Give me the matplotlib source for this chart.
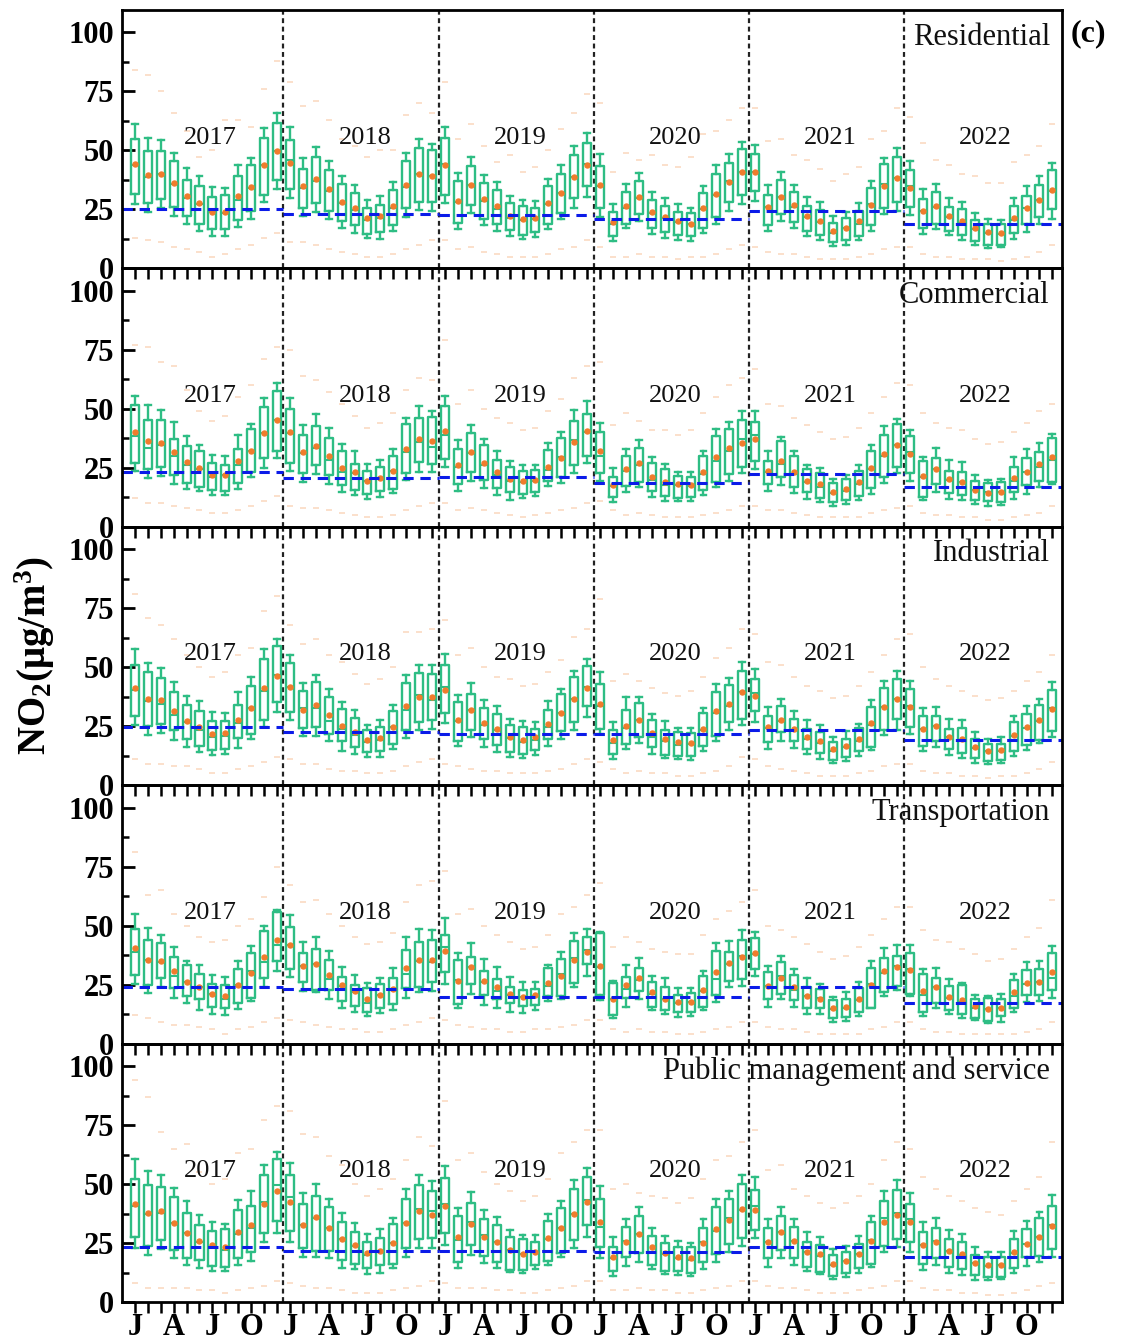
import matplotlib
matplotlib.use("Agg")
import matplotlib.pyplot as plt
from matplotlib.ticker import MultipleLocator, FixedLocator

plt.rcParams['font.family'] = ['Liberation Serif', 'DejaVu Serif']
plt.rcParams['mathtext.fontset'] = 'custom'
plt.rcParams['mathtext.rm'] = 'Liberation Serif:bold'
plt.rcParams['mathtext.bf'] = 'Liberation Serif:bold'
plt.rcParams['mathtext.it'] = 'Liberation Serif:bold:italic'

years = ['2017', '2018', '2019', '2020', '2021', '2022']
month_letters = ['J', '', '', 'A', '', '', 'J', '', '', 'O', '', '']
sectors = ['Residential', 'Commercial', 'Industrial', 'Transportation',
           'Public management and service']

# ---------------- Residential ----------------
res_whi = [61.1, 55.3, 54.6, 49.0, 42.4, 39.0, 34.4, 34.1, 43.7, 46.9, 59.3, 66.0,
           59.7, 46.6, 51.3, 45.4, 39.3, 35.4, 29.1, 30.7, 36.6, 49.0, 54.7, 52.9,
           59.7, 40.4, 47.3, 39.7, 36.6, 30.7, 29.0, 28.6, 37.9, 43.6, 51.9, 57.3,
           48.6, 27.3, 35.7, 40.3, 32.3, 29.7, 27.3, 25.7, 35.1, 43.7, 48.3, 53.7,
           52.3, 35.4, 40.9, 35.4, 30.4, 28.0, 22.3, 23.7, 27.6, 36.9, 46.9, 50.9,
           45.4, 33.6, 35.9, 29.7, 28.3, 23.6, 20.9, 20.4, 29.7, 35.1, 39.0, 44.7]
res_q3 = [55.0, 49.7, 49.7, 45.4, 37.3, 34.7, 30.4, 31.0, 39.0, 43.7, 55.4, 61.7,
          54.6, 42.3, 47.1, 41.6, 35.9, 31.9, 25.7, 26.9, 33.3, 45.4, 51.1, 50.0,
          55.3, 37.1, 43.3, 36.1, 33.3, 27.6, 26.4, 25.7, 34.7, 40.1, 48.0, 53.0,
          43.3, 23.7, 32.3, 36.9, 29.0, 26.6, 24.0, 23.3, 32.1, 40.1, 44.6, 50.4,
          48.3, 31.1, 37.6, 32.3, 26.6, 24.7, 19.3, 21.4, 24.4, 34.0, 44.4, 47.3,
          41.6, 29.4, 32.3, 26.1, 25.1, 20.4, 19.0, 18.7, 26.4, 30.7, 35.4, 41.6]
res_med = [43.7, 38.7, 40.1, 35.7, 29.7, 27.1, 24.0, 23.3, 29.0, 34.0, 44.0, 49.7,
           45.9, 34.0, 36.9, 32.6, 27.6, 24.7, 20.4, 21.4, 25.4, 34.4, 40.0, 39.3,
           44.3, 28.3, 35.4, 28.6, 25.1, 21.4, 20.4, 20.9, 27.1, 31.9, 38.6, 44.4,
           34.7, 19.0, 25.7, 30.0, 23.3, 21.4, 19.7, 18.7, 25.1, 31.1, 36.9, 40.9,
           40.7, 26.1, 30.4, 26.1, 21.9, 19.7, 15.1, 17.1, 19.0, 27.1, 35.7, 38.3,
           34.7, 24.3, 26.1, 21.9, 19.4, 16.6, 15.1, 14.7, 20.4, 25.4, 29.0, 32.6]
res_mean = [44.4, 39.7, 40.1, 36.0, 30.7, 27.6, 24.0, 24.0, 30.7, 34.3, 44.0, 49.7,
            44.7, 34.7, 38.0, 33.6, 28.3, 25.4, 21.4, 22.3, 26.4, 35.4, 40.0, 39.3,
            43.7, 28.6, 35.4, 29.4, 26.4, 22.3, 21.1, 21.4, 27.9, 32.1, 38.6, 43.7,
            35.4, 19.7, 26.6, 30.4, 23.7, 21.6, 20.0, 19.0, 25.7, 31.7, 36.6, 40.7,
            40.7, 26.1, 30.4, 26.9, 22.3, 20.1, 15.9, 17.3, 20.0, 26.9, 35.0, 38.3,
            34.0, 24.3, 26.6, 22.1, 20.1, 16.9, 15.4, 15.1, 21.4, 25.4, 29.0, 33.3]
res_q1 = [31.3, 27.9, 29.3, 25.9, 22.3, 18.7, 16.7, 16.7, 20.6, 24.3, 31.1, 37.3,
          33.6, 25.7, 27.6, 24.3, 20.0, 18.3, 14.7, 15.4, 18.3, 25.4, 28.3, 28.3,
          31.1, 19.4, 26.9, 21.1, 18.6, 16.1, 14.3, 15.4, 19.0, 23.6, 29.7, 34.7,
          25.4, 13.7, 19.0, 22.9, 17.1, 15.4, 14.3, 13.7, 17.1, 21.9, 28.3, 31.1,
          32.6, 18.3, 23.0, 19.7, 15.7, 14.3, 11.1, 11.9, 13.7, 18.3, 25.4, 28.0,
          26.1, 16.9, 19.0, 15.9, 14.0, 11.4, 10.1, 10.1, 15.1, 19.0, 21.9, 25.1]
res_wlo = [27.3, 24.0, 25.4, 22.0, 18.6, 15.7, 13.9, 13.9, 17.4, 21.1, 28.0, 33.6,
           29.7, 22.1, 24.0, 21.1, 16.9, 15.1, 12.9, 12.6, 15.9, 21.9, 24.7, 24.3,
           27.9, 16.6, 23.3, 18.3, 15.9, 13.7, 12.3, 13.3, 16.6, 20.9, 25.4, 30.4,
           21.9, 11.4, 16.9, 20.0, 14.7, 12.9, 11.9, 11.7, 15.1, 19.0, 24.3, 27.1,
           28.6, 15.7, 20.0, 16.9, 13.7, 11.9, 9.4, 10.1, 11.9, 15.9, 23.0, 24.4,
           22.6, 14.7, 16.6, 14.0, 11.9, 9.7, 8.6, 9.0, 12.3, 15.4, 18.7, 21.1]
res_hi = [84, 82, 75, 66, 58, 47, 50, 63, 63, 60, 76, 88,
          79, 69, 71, 63, 55, 52, 47, 50, 50, 65, 70, 66,
          79, 55, 61, 52, 45, 48, 41, 43, 50, 59, 66, 74,
          70, 41, 49, 46, 48, 44, 43, 47, 57, 58, 63, 68,
          68, 54, 55, 48, 46, 42, 37, 40, 43, 55, 58, 68,
          64, 53, 46, 44, 40, 39, 36, 36, 45, 48, 52, 61]
res_lo = [13, 12, 11, 9, 8, 7, 5, 6, 8, 10, 13, 15,
          11, 11, 10, 8, 7, 6, 5, 5, 6, 8, 10, 12,
          12, 8, 9, 7, 6, 5, 5, 5, 6, 8, 9, 12,
          9, 5, 5, 6, 5, 5, 4, 5, 5, 6, 8, 10,
          9, 7, 6, 6, 5, 4, 4, 4, 5, 6, 8, 9,
          9, 6, 5, 5, 4, 4, 4, 3, 4, 5, 7, 10]
res_annual = [25.1, 23.1, 22.6, 21.1, 24.4, 18.7]

# ---------------- Commercial ----------------
com_whi = [55.6, 51.5, 49.6, 44.4, 38.3, 34.8, 30.5, 30.2, 38.7, 43.4, 54.6, 61.0,
           54.6, 43.0, 47.9, 41.8, 35.2, 31.9, 26.4, 28.4, 33.0, 46.1, 51.1, 48.9,
           55.6, 36.6, 43.3, 37.0, 32.3, 27.8, 26.0, 26.2, 35.5, 40.1, 49.6, 53.2,
           44.1, 24.8, 33.0, 36.6, 29.5, 26.7, 23.4, 23.4, 32.1, 41.6, 44.4, 49.1,
           49.1, 32.1, 38.0, 31.9, 26.2, 25.0, 20.3, 22.1, 26.0, 34.5, 42.6, 45.8,
           41.1, 29.5, 33.5, 28.4, 27.4, 22.1, 19.9, 20.3, 29.5, 33.0, 35.6, 39.4]
com_q3 = [51.5, 45.4, 45.4, 37.3, 34.2, 32.3, 27.0, 26.0, 33.0, 41.6, 50.8, 57.6,
          50.1, 39.1, 42.6, 37.6, 32.1, 26.7, 23.8, 25.5, 30.2, 43.7, 46.1, 46.5,
          51.1, 33.0, 39.7, 34.8, 28.4, 25.2, 23.5, 24.1, 32.6, 37.6, 44.8, 47.9,
          40.1, 21.0, 30.2, 33.3, 27.0, 24.3, 21.7, 21.3, 29.8, 38.4, 41.3, 45.4,
          44.4, 27.8, 36.2, 29.9, 24.3, 22.8, 18.4, 20.3, 23.8, 32.3, 39.1, 43.7,
          38.3, 27.8, 29.1, 23.8, 23.4, 19.6, 18.6, 18.9, 25.2, 29.2, 31.6, 37.7]
com_med = [38.3, 33.5, 34.5, 30.2, 26.2, 24.5, 21.3, 22.1, 26.2, 32.3, 39.9, 45.1,
           39.7, 31.3, 33.3, 28.4, 23.1, 22.7, 19.3, 20.7, 23.8, 31.6, 35.9, 34.0,
           39.0, 25.2, 31.2, 26.0, 22.1, 19.6, 19.1, 19.6, 24.1, 29.5, 36.6, 40.1,
           30.2, 17.4, 23.5, 26.2, 19.9, 17.7, 17.7, 17.4, 22.4, 27.8, 32.3, 37.3,
           38.7, 23.1, 26.7, 22.4, 18.9, 17.0, 14.2, 15.3, 18.2, 24.3, 30.2, 34.5,
           31.6, 21.0, 24.3, 20.0, 18.9, 15.7, 14.6, 14.6, 19.6, 23.1, 25.2, 28.1]
com_mean = [40.0, 36.2, 35.6, 31.5, 27.5, 25.1, 21.8, 22.1, 27.7, 32.3, 39.9, 45.1,
            40.0, 31.5, 34.3, 30.1, 25.0, 23.0, 19.6, 20.6, 23.8, 33.0, 37.2, 36.2,
            40.6, 26.0, 31.6, 27.0, 23.3, 20.1, 19.3, 19.9, 25.2, 29.2, 36.0, 40.4,
            32.2, 17.9, 24.3, 27.1, 21.3, 19.0, 18.2, 17.7, 23.1, 29.4, 33.5, 35.7,
            37.0, 23.5, 27.8, 23.3, 19.6, 18.2, 14.9, 16.0, 19.1, 24.8, 30.9, 34.5,
            30.9, 21.4, 24.3, 20.3, 19.1, 15.7, 14.3, 14.9, 20.7, 23.4, 26.7, 29.5]
com_q1 = [27.1, 24.5, 25.2, 22.0, 18.6, 16.7, 15.7, 15.3, 18.6, 23.1, 29.1, 32.3,
          27.1, 22.7, 26.0, 22.0, 17.7, 15.7, 13.9, 15.0, 16.0, 22.8, 27.4, 26.7,
          28.8, 18.2, 23.1, 19.9, 16.3, 14.6, 13.9, 14.9, 19.3, 21.0, 26.2, 30.2,
          22.8, 12.8, 17.4, 19.1, 15.3, 12.9, 12.1, 12.5, 15.7, 18.9, 22.4, 25.2,
          27.8, 18.2, 21.0, 17.0, 14.6, 12.1, 10.4, 11.5, 13.2, 16.3, 21.0, 25.2,
          22.7, 12.8, 18.2, 14.2, 13.5, 11.3, 10.8, 10.4, 14.6, 17.9, 19.6, 19.1]
com_wlo = [23.8, 20.6, 21.7, 18.2, 16.0, 15.0, 13.5, 13.5, 16.0, 21.0, 25.0, 29.1,
           23.8, 19.1, 22.4, 18.2, 14.6, 13.5, 11.8, 12.5, 14.3, 19.9, 23.4, 23.0,
           25.2, 15.3, 19.6, 16.3, 13.6, 11.5, 12.1, 13.0, 17.4, 18.4, 22.8, 26.9,
           19.6, 10.6, 14.9, 17.0, 12.8, 10.8, 10.8, 11.0, 13.5, 16.7, 19.6, 22.7,
           24.3, 15.0, 17.7, 14.3, 11.8, 10.6, 8.9, 9.6, 11.5, 13.9, 18.6, 22.8,
           19.6, 11.5, 14.6, 11.8, 11.5, 9.6, 8.9, 9.2, 11.8, 13.9, 16.7, 18.2]
com_hi = [77, 76, 70, 68, 58, 49, 45, 47, 55, 60, 71, 76,
          75, 64, 62, 57, 52, 47, 42, 44, 48, 58, 63, 62,
          79, 52, 58, 50, 46, 44, 41, 42, 49, 54, 63, 68,
          70, 43, 48, 45, 41, 41, 39, 41, 48, 55, 60, 63,
          67, 52, 51, 46, 43, 40, 37, 38, 42, 48, 55, 61,
          60, 48, 44, 42, 41, 37, 35, 36, 40, 44, 49, 52]
com_lo = [12, 10, 10, 9, 8, 7, 6, 6, 7, 9, 11, 13,
          9, 8, 8, 7, 6, 5, 4, 4, 5, 7, 9, 10,
          10, 7, 8, 7, 6, 5, 4, 5, 6, 7, 8, 10,
          11, 7, 5, 6, 5, 4, 4, 4, 5, 6, 7, 9,
          9, 7, 7, 6, 5, 4, 4, 4, 4, 6, 7, 8,
          9, 6, 5, 5, 4, 4, 3, 3, 4, 5, 6, 9]
com_annual = [23.1, 20.6, 21.3, 18.7, 22.4, 16.7]

# ---------------- Industrial ----------------
ind_whi = [57.8, 51.8, 49.7, 43.8, 37.7, 35.6, 31.0, 30.6, 39.5, 45.8, 57.5, 62.0,
           55.1, 43.3, 46.9, 40.9, 35.3, 31.7, 25.6, 27.8, 34.1, 46.9, 51.1, 50.8,
           55.4, 38.4, 43.3, 36.0, 33.4, 28.2, 27.1, 26.8, 35.6, 40.9, 48.6, 53.3,
           47.9, 26.6, 37.3, 37.3, 30.3, 27.1, 24.2, 24.2, 32.7, 42.9, 45.5, 52.3,
           49.3, 33.0, 36.7, 31.6, 27.5, 25.6, 20.4, 22.8, 26.1, 36.0, 44.3, 48.3,
           44.1, 32.7, 33.0, 28.0, 27.8, 22.5, 19.7, 20.3, 29.2, 33.7, 36.5, 43.6]
ind_q3 = [51.1, 48.0, 45.5, 39.5, 33.9, 31.3, 27.3, 27.3, 34.1, 42.2, 53.5, 58.9,
          51.8, 39.8, 43.8, 37.4, 32.4, 28.5, 23.2, 24.6, 31.6, 43.1, 47.6, 47.3,
          51.1, 35.3, 38.8, 32.7, 30.2, 25.6, 24.5, 23.8, 32.0, 38.7, 45.9, 50.4,
          42.9, 23.5, 32.0, 34.8, 27.5, 23.5, 22.5, 22.1, 30.6, 39.4, 42.6, 48.6,
          44.8, 29.5, 33.4, 28.2, 23.8, 22.5, 18.1, 19.5, 24.2, 33.1, 41.2, 45.0,
          40.8, 29.5, 29.5, 23.8, 24.2, 19.5, 17.4, 17.6, 26.6, 30.3, 33.9, 40.2]
ind_med = [40.2, 35.8, 34.6, 29.9, 26.6, 23.5, 20.3, 21.0, 26.3, 32.7, 39.8, 46.9,
           41.6, 32.7, 32.7, 27.3, 23.8, 21.4, 18.1, 19.0, 24.6, 32.0, 38.4, 36.3,
           41.5, 27.3, 32.0, 25.6, 23.5, 20.0, 18.1, 19.3, 24.5, 30.6, 36.7, 41.5,
           33.4, 17.8, 24.2, 27.5, 20.4, 18.6, 17.1, 17.4, 23.5, 30.6, 33.4, 39.4,
           39.1, 24.2, 27.3, 23.5, 19.5, 17.8, 14.3, 16.0, 18.6, 25.6, 33.1, 36.7,
           33.7, 23.9, 24.9, 20.4, 18.6, 15.7, 14.3, 14.6, 20.7, 24.2, 27.3, 32.7]
ind_mean = [41.2, 36.7, 36.1, 31.6, 27.1, 24.6, 21.8, 22.1, 27.6, 32.9, 41.2, 46.2,
            41.5, 32.0, 34.1, 29.6, 25.2, 22.5, 19.0, 20.0, 24.8, 33.7, 37.3, 37.4,
            40.5, 27.5, 32.0, 26.3, 23.9, 20.4, 19.3, 20.3, 25.9, 30.6, 36.7, 41.2,
            34.6, 19.3, 24.9, 27.8, 22.1, 19.7, 18.1, 17.8, 23.8, 31.3, 34.6, 39.4,
            38.0, 24.6, 27.8, 23.8, 20.4, 18.8, 15.3, 16.7, 19.5, 26.3, 33.1, 36.5,
            33.0, 23.8, 24.9, 20.4, 19.5, 16.1, 14.7, 15.0, 21.1, 24.5, 27.5, 32.3]
ind_q1 = [29.2, 25.2, 26.1, 23.2, 19.5, 16.4, 15.0, 15.4, 20.0, 21.8, 27.8, 35.1,
          31.0, 24.2, 24.6, 21.8, 18.6, 16.0, 14.0, 14.7, 17.4, 23.5, 26.6, 27.8,
          30.6, 18.6, 23.5, 19.5, 16.9, 13.9, 13.3, 15.0, 19.5, 22.8, 26.6, 33.4,
          23.8, 13.2, 17.4, 20.3, 16.1, 12.9, 12.2, 12.5, 16.4, 20.7, 26.6, 28.0,
          31.6, 18.3, 22.4, 18.6, 15.3, 13.6, 10.8, 11.8, 14.6, 16.1, 23.5, 28.2,
          24.6, 16.7, 18.6, 15.4, 13.6, 11.5, 10.3, 10.5, 14.3, 17.1, 19.0, 22.8]
ind_wlo = [25.6, 21.4, 22.2, 19.0, 16.1, 13.9, 12.9, 13.3, 15.7, 19.7, 24.5, 30.9,
           27.5, 20.7, 21.0, 18.8, 14.7, 13.3, 11.9, 11.9, 15.4, 20.0, 23.2, 23.8,
           26.3, 16.4, 20.4, 16.1, 14.0, 11.9, 11.5, 12.9, 16.4, 19.7, 23.5, 28.8,
           21.7, 11.2, 15.3, 17.8, 13.3, 11.5, 11.2, 10.8, 14.6, 18.8, 23.5, 25.6,
           26.6, 15.4, 18.6, 15.7, 13.2, 11.2, 9.3, 10.3, 12.2, 15.0, 21.1, 23.5,
           21.8, 14.3, 16.0, 12.9, 11.5, 9.6, 8.9, 9.3, 12.2, 15.0, 17.8, 20.4]
ind_hi = [81, 71, 68, 62, 55, 50, 46, 48, 55, 58, 74, 80,
          68, 60, 62, 55, 52, 47, 43, 45, 50, 65, 65, 66,
          70, 55, 58, 50, 46, 45, 42, 43, 48, 53, 63, 66,
          79, 44, 47, 44, 41, 39, 38, 40, 46, 54, 58, 66,
          64, 52, 51, 46, 42, 40, 37, 38, 42, 48, 55, 62,
          64, 50, 45, 42, 40, 38, 36, 37, 40, 44, 48, 55]
ind_lo = [11, 9, 9, 8, 8, 7, 5, 5, 7, 8, 10, 12,
          11, 9, 9, 7, 6, 6, 5, 5, 6, 8, 10, 11,
          9, 8, 7, 6, 6, 5, 5, 5, 6, 7, 9, 11,
          10, 7, 5, 6, 5, 5, 4, 4, 5, 6, 8, 12,
          11, 8, 7, 6, 5, 4, 4, 4, 5, 6, 8, 9,
          9, 6, 5, 5, 4, 4, 3, 4, 4, 5, 7, 10]
ind_annual = [24.6, 22.5, 21.8, 21.8, 23.2, 19.0]

# ---------------- Transportation ----------------
tra_whi = [55.0, 49.0, 46.2, 41.1, 35.1, 33.4, 29.0, 28.3, 34.8, 41.5, 50.0, 56.8,
           54.7, 43.2, 45.0, 39.1, 32.6, 29.2, 25.6, 28.0, 32.0, 45.0, 48.6, 48.3,
           53.1, 38.4, 42.5, 35.8, 32.3, 28.3, 26.3, 26.3, 33.4, 38.7, 46.9, 48.6,
           47.2, 26.6, 33.4, 36.3, 28.8, 27.8, 23.5, 23.5, 30.6, 42.5, 43.3, 48.2,
           47.2, 33.0, 37.3, 31.6, 27.6, 25.2, 19.8, 21.7, 26.2, 34.8, 40.5, 41.9,
           41.9, 31.6, 32.0, 27.3, 25.5, 20.5, 20.3, 21.0, 29.5, 34.4, 35.1, 41.2]
tra_q3 = [48.6, 43.9, 42.5, 36.5, 33.4, 29.5, 25.2, 24.9, 31.6, 38.4, 47.9, 55.7,
          49.3, 38.4, 40.1, 35.6, 28.3, 24.8, 23.5, 25.2, 27.8, 39.7, 43.2, 44.1,
          46.0, 35.6, 36.5, 30.6, 27.3, 23.8, 22.7, 23.1, 31.9, 35.8, 43.6, 45.3,
          46.9, 25.5, 28.3, 32.0, 25.9, 23.8, 20.7, 21.4, 28.5, 39.1, 38.7, 44.1,
          44.8, 30.2, 34.4, 29.2, 24.1, 23.1, 18.4, 19.1, 23.4, 31.9, 36.3, 37.3,
          38.4, 29.7, 28.0, 24.5, 24.9, 18.8, 19.3, 18.8, 26.9, 31.2, 31.6, 38.2]
tra_med = [39.0, 35.6, 34.4, 28.8, 25.9, 23.8, 21.0, 18.8, 24.8, 30.9, 34.4, 41.8,
           41.8, 33.0, 33.7, 27.3, 24.5, 21.7, 17.4, 20.7, 22.8, 29.7, 34.8, 34.7,
           41.1, 27.1, 32.3, 25.9, 22.4, 20.7, 19.8, 20.3, 24.5, 29.7, 36.1, 39.8,
           32.3, 18.8, 23.1, 26.9, 21.0, 18.8, 17.4, 17.7, 22.4, 27.3, 33.7, 37.3,
           38.0, 24.5, 28.8, 22.7, 20.3, 19.3, 14.6, 15.3, 18.4, 25.2, 29.9, 33.0,
           31.6, 20.5, 23.8, 19.3, 17.7, 15.3, 14.6, 14.9, 20.3, 25.2, 25.9, 28.0]
tra_mean = [40.4, 35.6, 35.1, 30.6, 25.9, 23.8, 21.0, 20.3, 24.9, 29.9, 36.8, 43.9,
            41.8, 33.0, 33.7, 29.0, 24.8, 22.1, 18.8, 20.7, 23.1, 32.0, 35.6, 35.6,
            39.4, 26.6, 32.3, 26.6, 23.8, 21.0, 19.8, 20.7, 25.6, 28.8, 35.6, 39.0,
            33.0, 19.1, 24.8, 27.8, 21.7, 18.8, 17.7, 17.7, 22.7, 30.2, 34.0, 36.8,
            38.2, 24.5, 27.8, 23.8, 20.3, 18.8, 14.9, 15.7, 19.1, 24.9, 30.9, 32.6,
            31.2, 22.1, 24.1, 19.8, 18.6, 16.0, 14.6, 15.3, 21.7, 25.5, 26.2, 30.5]
tra_q1 = [29.2, 24.9, 27.8, 23.5, 20.3, 18.8, 15.6, 14.9, 17.1, 19.3, 27.8, 34.8,
          31.6, 25.9, 22.8, 22.8, 18.1, 16.0, 13.5, 15.3, 16.7, 23.4, 24.1, 26.2,
          30.5, 16.7, 25.2, 20.7, 18.8, 17.1, 16.0, 16.3, 20.3, 20.3, 25.6, 33.7,
          20.7, 12.0, 19.3, 22.1, 15.6, 14.3, 13.2, 13.6, 15.7, 20.5, 26.6, 27.3,
          31.6, 18.8, 21.0, 18.4, 14.9, 15.3, 10.8, 11.3, 13.5, 15.3, 21.7, 24.5,
          21.0, 13.6, 17.4, 14.3, 12.5, 10.8, 9.6, 11.8, 15.3, 20.5, 20.5, 22.8]
tra_wlo = [25.2, 21.4, 23.8, 19.5, 17.0, 14.3, 12.7, 12.0, 14.6, 18.1, 23.8, 30.6,
           28.3, 22.4, 21.7, 18.8, 15.3, 13.6, 11.5, 12.9, 14.2, 19.3, 22.0, 22.4,
           25.2, 14.9, 21.0, 16.4, 14.9, 13.2, 12.9, 14.3, 18.1, 18.8, 23.8, 28.8,
           18.4, 10.8, 15.7, 18.8, 14.2, 12.5, 11.3, 11.8, 14.2, 17.8, 23.8, 24.5,
           28.8, 15.7, 18.8, 15.7, 12.5, 12.5, 9.3, 9.6, 11.8, 14.9, 20.0, 22.8,
           20.0, 11.8, 15.3, 12.5, 10.8, 9.9, 8.6, 9.3, 13.5, 17.7, 18.1, 19.3]
tra_hi = [81, 63, 65, 55, 50, 45, 43, 44, 50, 53, 62, 75,
          67, 60, 61, 55, 50, 45, 42, 43, 47, 60, 67, 69,
          73, 55, 57, 50, 46, 43, 40, 41, 46, 55, 58, 63,
          68, 41, 45, 43, 40, 39, 38, 38, 46, 53, 56, 60,
          65, 50, 48, 45, 42, 39, 36, 37, 41, 46, 53, 58,
          58, 48, 44, 43, 40, 38, 35, 36, 40, 45, 49, 61]
tra_lo = [12, 11, 9, 8, 8, 7, 6, 4, 6, 7, 9, 11,
          10, 9, 8, 7, 6, 6, 5, 5, 6, 8, 9, 11,
          10, 8, 7, 6, 6, 5, 5, 6, 6, 7, 8, 10,
          10, 6, 5, 6, 5, 5, 4, 4, 5, 6, 7, 9,
          9, 7, 6, 6, 5, 4, 4, 4, 4, 6, 7, 9,
          9, 6, 5, 5, 4, 4, 4, 4, 4, 5, 6, 9]
tra_annual = [23.8, 23.1, 19.8, 19.8, 24.1, 17.0]

# ---------------- Public management and service ----------------
pub_whi = [60.7, 55.4, 53.7, 48.3, 43.0, 36.9, 34.1, 33.1, 43.3, 46.9, 58.2, 63.6,
           58.9, 46.2, 50.0, 43.8, 37.6, 33.4, 28.7, 30.8, 35.5, 48.0, 54.0, 51.4,
           57.8, 39.8, 46.6, 38.8, 35.9, 30.5, 28.4, 28.4, 37.2, 43.0, 51.6, 56.8,
           49.3, 27.4, 35.2, 40.2, 31.5, 28.0, 25.9, 25.1, 35.2, 43.8, 47.2, 54.0,
           52.8, 35.2, 40.2, 35.2, 29.8, 27.4, 22.4, 23.7, 28.1, 36.6, 47.2, 51.6,
           46.2, 34.1, 35.5, 30.5, 28.8, 23.2, 21.0, 21.0, 30.3, 34.5, 38.1, 45.5]
pub_q3 = [52.3, 49.4, 48.6, 44.3, 37.9, 32.7, 30.1, 30.8, 39.1, 40.9, 54.0, 60.4,
          54.0, 41.5, 45.0, 40.2, 34.1, 29.8, 25.3, 27.3, 33.0, 43.6, 49.7, 47.2,
          52.6, 36.5, 41.9, 35.1, 32.7, 27.7, 26.6, 25.6, 34.4, 39.8, 48.0, 52.8,
          43.8, 23.4, 32.0, 36.6, 28.1, 25.1, 23.4, 23.2, 31.3, 40.1, 43.6, 50.1,
          47.6, 31.3, 36.6, 32.0, 25.3, 24.1, 19.9, 21.0, 24.6, 33.8, 43.0, 47.6,
          41.6, 29.8, 31.3, 26.6, 25.3, 19.9, 19.2, 18.9, 26.6, 31.0, 35.5, 40.9]
pub_med = [40.8, 37.2, 37.6, 33.7, 29.4, 25.6, 23.4, 22.0, 28.7, 31.3, 42.3, 49.7,
           44.3, 32.7, 35.8, 31.5, 26.7, 23.9, 19.9, 21.7, 25.1, 33.7, 39.3, 38.4,
           41.6, 26.3, 34.1, 28.4, 25.6, 22.0, 20.2, 21.3, 26.6, 31.5, 37.4, 43.3,
           31.7, 18.5, 26.0, 28.7, 21.3, 20.2, 18.5, 18.0, 25.6, 30.1, 35.5, 38.8,
           40.9, 25.3, 29.8, 25.9, 21.3, 19.5, 15.6, 17.3, 20.2, 26.3, 35.8, 37.6,
           35.2, 24.1, 25.9, 21.6, 19.9, 16.6, 15.3, 15.6, 20.6, 24.4, 27.7, 32.7]
pub_mean = [41.6, 37.9, 38.4, 33.7, 29.4, 25.9, 24.1, 23.4, 29.8, 32.7, 41.6, 46.9,
            42.3, 32.7, 36.2, 31.5, 26.6, 24.1, 20.6, 21.7, 25.1, 33.7, 38.6, 36.9,
            40.9, 27.4, 33.1, 27.4, 25.6, 22.0, 20.3, 21.3, 27.0, 31.3, 37.4, 42.3,
            34.1, 19.2, 25.3, 28.8, 23.2, 20.6, 19.2, 18.5, 24.9, 30.8, 34.8, 39.3,
            39.1, 25.3, 29.8, 25.9, 21.3, 20.2, 16.1, 17.3, 20.3, 26.0, 34.1, 36.9,
            33.8, 24.1, 25.6, 21.6, 20.3, 16.6, 15.6, 15.6, 21.3, 24.4, 27.4, 32.2]
pub_q1 = [27.4, 23.7, 26.3, 22.0, 18.8, 17.8, 15.3, 14.9, 18.5, 21.0, 29.1, 34.5,
          30.1, 22.7, 21.7, 21.7, 17.8, 16.1, 14.5, 15.9, 16.1, 22.7, 26.6, 27.0,
          29.4, 17.0, 24.1, 19.6, 17.0, 13.5, 13.5, 15.6, 17.3, 20.9, 26.3, 32.7,
          23.2, 13.2, 18.9, 20.6, 15.9, 13.2, 13.2, 12.5, 17.0, 20.2, 24.4, 27.0,
          30.5, 18.5, 22.0, 18.8, 14.9, 12.8, 11.1, 12.4, 14.5, 16.1, 23.9, 26.6,
          25.3, 16.3, 18.5, 14.9, 13.9, 11.4, 10.7, 10.7, 14.5, 19.2, 19.6, 22.4]
pub_wlo = [22.7, 19.9, 22.4, 18.5, 15.6, 14.5, 13.2, 13.1, 15.6, 17.5, 25.6, 29.1,
           25.6, 18.9, 19.0, 18.5, 14.6, 13.9, 11.8, 12.4, 14.6, 18.9, 23.0, 22.7,
           24.1, 14.6, 19.9, 16.6, 14.6, 12.8, 12.1, 13.9, 15.6, 18.9, 22.7, 27.4,
           18.5, 10.9, 15.3, 17.0, 13.8, 11.8, 11.4, 11.1, 13.8, 17.0, 21.0, 23.9,
           27.3, 14.9, 18.8, 15.9, 13.2, 11.8, 9.7, 10.4, 12.1, 14.9, 21.0, 23.2,
           21.0, 13.5, 15.6, 12.5, 11.6, 9.5, 9.2, 9.7, 12.1, 15.3, 17.0, 19.2]
pub_hi = [94, 87, 72, 65, 67, 55, 50, 52, 63, 65, 77, 83,
          81, 71, 70, 62, 58, 50, 45, 48, 52, 60, 70, 66,
          85, 60, 63, 55, 50, 47, 43, 45, 52, 63, 68, 73,
          73, 48, 50, 46, 45, 44, 42, 44, 52, 60, 62, 68,
          73, 56, 58, 48, 45, 42, 40, 42, 45, 50, 60, 68,
          65, 53, 48, 45, 43, 40, 38, 37, 43, 48, 53, 68]
pub_lo = [8, 6, 6, 6, 6, 5, 5, 4, 5, 6, 7, 9,
          8, 7, 6, 6, 5, 4, 4, 4, 5, 6, 7, 9,
          8, 6, 6, 6, 5, 5, 4, 4, 5, 6, 7, 9,
          9, 5, 5, 6, 5, 5, 4, 4, 5, 6, 7, 9,
          9, 7, 6, 6, 5, 4, 4, 4, 5, 6, 7, 9,
          9, 6, 5, 5, 4, 4, 3, 3, 4, 5, 7, 8]
pub_annual = [23.4, 21.7, 21.7, 21.0, 23.2, 18.9]

panels = [
    (res_whi, res_q3, res_med, res_mean, res_q1, res_wlo, res_hi, res_lo, res_annual),
    (com_whi, com_q3, com_med, com_mean, com_q1, com_wlo, com_hi, com_lo, com_annual),
    (ind_whi, ind_q3, ind_med, ind_mean, ind_q1, ind_wlo, ind_hi, ind_lo, ind_annual),
    (tra_whi, tra_q3, tra_med, tra_mean, tra_q1, tra_wlo, tra_hi, tra_lo, tra_annual),
    (pub_whi, pub_q3, pub_med, pub_mean, pub_q1, pub_wlo, pub_hi, pub_lo, pub_annual),
]

GREEN = '#2ebd84'
ORANGE = '#f07c2c'
PEACH = '#fbd7bd'
BLUE = '#0b1be8'

n_months = len(years) * 12
months = list(range(1, n_months + 1))
xmax = n_months + 0.75

fig = plt.figure(figsize=(11.21, 13.43), dpi=100)
gs = fig.add_gridspec(len(sectors), 1, left=0.1088, right=0.9474,
                      top=0.9926, bottom=0.0305, hspace=0)
axes = [fig.add_subplot(gs[i, 0]) for i in range(len(sectors))]

for pi, (ax, name, data) in enumerate(zip(axes, sectors, panels)):
    whi, q3, med, mean, q1, wlo, hi, lo, annual = data
    ax.set_facecolor('none')
    stats = []
    for k in range(n_months):
        stats.append(dict(med=med[k], q1=q1[k], q3=q3[k], whislo=wlo[k],
                          whishi=whi[k], mean=mean[k], fliers=[]))
    ax.bxp(stats, positions=months, widths=0.62, capwidths=0.45,
           showmeans=True, showfliers=False, patch_artist=False,
           boxprops=dict(color=GREEN, linewidth=1.7),
           medianprops=dict(color=GREEN, linewidth=1.5),
           whiskerprops=dict(color=GREEN, linewidth=1.7),
           capprops=dict(color=GREEN, linewidth=1.7),
           meanprops=dict(marker='o', markerfacecolor=ORANGE,
                          markeredgecolor=ORANGE, markersize=3.6),
           manage_ticks=False, zorder=3)
    ax.plot(months, hi, ls='none', marker='_', color=PEACH, ms=4.5, mew=1.1, zorder=2)
    ax.plot(months, lo, ls='none', marker='_', color=PEACH, ms=4.5, mew=1.1, zorder=2)

    for yi, yr in enumerate(years):
        x0 = 0 if yi == 0 else 12 * yi + 0.5
        x1 = xmax if yi == len(years) - 1 else 12 * yi + 12.5
        ax.plot([x0, x1], [annual[yi], annual[yi]], color=BLUE, lw=2.2,
                ls=(0, (3.4, 2.2)), zorder=4)
        ax.text(12 * yi + 6.8, 55.4, yr, ha='center', va='center',
                fontsize=19, color='#111111')
        if yi > 0:
            ax.axvline(12 * yi + 0.5, color='#222222', lw=1.6,
                       ls=(0, (2.2, 1.6)), zorder=1)

    ax.text(0.987, 0.895, name, transform=ax.transAxes, ha='right',
            va='center', fontsize=22, color='#111111', zorder=6)

    ax.set_xlim(0, xmax)
    ax.set_ylim(0, 109.5)
    ax.yaxis.set_major_locator(FixedLocator([0, 25, 50, 75, 100]))
    ax.yaxis.set_minor_locator(MultipleLocator(12.5))
    ax.tick_params(axis='y', which='major', direction='in', length=9, width=2,
                   labelsize=22, pad=6)
    ax.tick_params(axis='y', which='minor', direction='in', length=5, width=1.8)
    ax.set_xticks(months)
    ax.tick_params(axis='x', which='major', direction='out', length=8, width=1.8,
                   labelsize=22, pad=0)
    for lbl in ax.get_yticklabels():
        lbl.set_fontweight('bold')
    if pi == len(sectors) - 1:
        ax.set_xticklabels(month_letters * len(years), fontweight='bold')
    else:
        ax.set_xticklabels([])
    for sp in ax.spines.values():
        sp.set_linewidth(2.0)
        sp.set_zorder(5)

fig.text(0.031, 0.512, r'NO$_2$(μg/m$^3$)', rotation=90, ha='center',
         va='center', fontsize=28, fontweight='bold')
fig.text(0.971, 0.975, '(c)', ha='center', va='center', fontsize=23,
         fontweight='bold')

fig.savefig('out.png', dpi=100)
